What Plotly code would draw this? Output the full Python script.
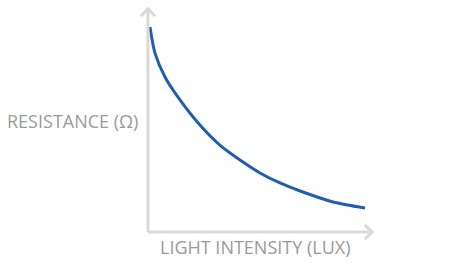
import plotly.graph_objects as go

# Data (arbitrary units)
light_intensity = [0.9, 3.1, 7.6, 13.4, 23.2, 32.1, 41.1, 50.0, 58.9, 67.9, 82.6, 96.9]
resistance = [91.9, 80.3, 69.5, 60.5, 48.0, 39.0, 32.3, 26.5, 22.0, 18.4, 13.5, 10.8]
x_label = "LIGHT INTENSITY (LUX)"
y_label = "RESISTANCE (Ω)"

axis_color = "#d9d9d9"
text_color = "#9a9a9a"
curve_color = "#1f5fae"

fig = go.Figure()
fig.add_trace(go.Scatter(
    x=light_intensity, y=resistance, mode="lines",
    line=dict(color=curve_color, width=3, shape="spline", smoothing=0.7),
    hoverinfo="skip", showlegend=False,
))

shapes = [
    dict(type="line", xref="x", yref="y", x0=0, y0=0, x1=0, y1=100,
         line=dict(color=axis_color, width=3)),
    dict(type="line", xref="x", yref="y", x0=0, y0=0, x1=100, y1=0,
         line=dict(color=axis_color, width=3)),
    dict(type="path", xref="x", yref="y", path="M -3.2,96.8 L 0,100 L 3.2,96.8",
         line=dict(color=axis_color, width=3)),
    dict(type="path", xref="x", yref="y", path="M 96.8,3.2 L 100,0 L 96.8,-3.2",
         line=dict(color=axis_color, width=3)),
]

annotations = [
    dict(text=y_label, xref="paper", yref="paper", x=0.004, y=0.498,
         xanchor="right", yanchor="middle", showarrow=False,
         font=dict(family="Open Sans", size=18, color=text_color)),
    dict(text=x_label, xref="paper", yref="paper", x=0.483, y=-0.025,
         xanchor="center", yanchor="middle", showarrow=False,
         font=dict(family="Open Sans", size=18, color=text_color)),
]

fig.update_layout(
    width=474, height=265,
    margin=dict(l=139, r=93, t=0, b=24),
    paper_bgcolor="white", plot_bgcolor="white",
    shapes=shapes, annotations=annotations,
    xaxis=dict(range=[-4, 104], visible=False, fixedrange=True),
    yaxis=dict(range=[-4, 104], visible=False, fixedrange=True),
)

fig.write_html("out.html")
